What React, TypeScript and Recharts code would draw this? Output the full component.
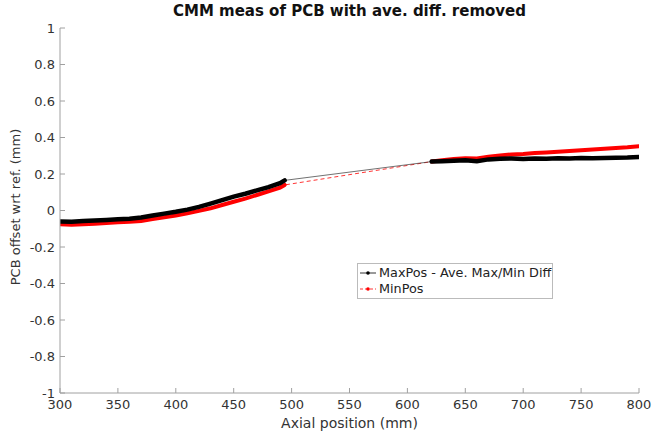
import { LineChart, Line, XAxis, YAxis } from 'recharts';

const FONT = "'DejaVu Sans', Verdana, sans-serif";
const AXIS = '#a0a0a0';

const xTicks = [300, 350, 400, 450, 500, 550, 600, 650, 700, 750, 800];
const yTicks = [-1, -0.8, -0.6, -0.4, -0.2, 0, 0.2, 0.4, 0.6, 0.8, 1];

// MaxPos - Ave. Max/Min Diff (black)
const maxLeftX = [300, 310, 320, 330, 340, 350, 360, 370, 380, 390, 400, 410, 420, 430, 440, 450, 460, 470, 480, 490, 494];
const maxLeftY = [-0.06, -0.062, -0.058, -0.055, -0.052, -0.048, -0.045, -0.038, -0.027, -0.017, -0.007, 0.005, 0.02, 0.038, 0.057, 0.076, 0.092, 0.11, 0.128, 0.15, 0.165];
const maxRightX = [621, 630, 640, 650, 660, 670, 680, 690, 700, 710, 720, 730, 740, 750, 760, 770, 780, 790, 800];
const maxRightY = [0.268, 0.27, 0.272, 0.275, 0.27, 0.28, 0.283, 0.285, 0.282, 0.285, 0.283, 0.286, 0.285, 0.287, 0.286, 0.288, 0.289, 0.29, 0.293];

// MinPos (red)
const minLeftX = [300, 310, 320, 330, 340, 350, 360, 370, 380, 390, 400, 410, 420, 430, 440, 450, 460, 470, 480, 490, 494];
const minLeftY = [-0.075, -0.078, -0.075, -0.072, -0.068, -0.065, -0.062, -0.058, -0.047, -0.037, -0.027, -0.015, -0.002, 0.012, 0.03, 0.048, 0.065, 0.085, 0.105, 0.125, 0.14];
const minRightX = [621, 630, 640, 650, 660, 670, 680, 690, 700, 710, 720, 730, 740, 750, 760, 770, 780, 790, 800];
const minRightY = [0.268, 0.275, 0.282, 0.286, 0.285, 0.295, 0.302, 0.307, 0.31, 0.315, 0.318, 0.322, 0.326, 0.33, 0.334, 0.338, 0.342, 0.346, 0.352];

const toPts = (xs: number[], ys: number[]) => xs.map((x, i) => ({ x, y: ys[i] }));

const maxLeft = toPts(maxLeftX, maxLeftY);
const maxRight = toPts(maxRightX, maxRightY);
const minLeft = toPts(minLeftX, minLeftY);
const minRight = toPts(minRightX, minRightY);

const tickStyle = { fill: '#333', fontSize: 13, fontFamily: FONT };

const LegendIcon = ({ color, dashed }: { color: string; dashed?: boolean }) => (
  <svg width={18} height={10} style={{ marginRight: 2 }}>
    <line x1={1} y1={5} x2={17} y2={5} stroke={color} strokeWidth={0.8} strokeDasharray={dashed ? '3 2' : undefined} />
    <circle cx={9} cy={5} r={1.8} fill={color} />
  </svg>
);

export default function App() {
  return (
    <div style={{ position: 'absolute', left: 0, top: 0, width: 652, height: 434, background: '#fff', fontFamily: FONT }}>
      <div style={{ position: 'absolute', left: 60, width: 579, top: 2, textAlign: 'center', fontSize: 15, fontWeight: 'bold', color: '#111' }}>
        CMM meas of PCB with ave. diff. removed
      </div>
      <LineChart width={652} height={434} margin={{ top: 28, right: 13, bottom: 21, left: 20 }}>
        <XAxis
          xAxisId="b"
          type="number"
          dataKey="x"
          domain={[300, 800]}
          ticks={xTicks}
          allowDataOverflow
          height={20}
          tick={tickStyle}
          tickSize={-5}
          tickMargin={12}
          axisLine={{ stroke: AXIS }}
          tickLine={{ stroke: AXIS }}
        />
        <XAxis
          xAxisId="t"
          orientation="top"
          type="number"
          dataKey="x"
          domain={[300, 800]}
          ticks={xTicks}
          height={0}
          tick={false}
          tickSize={-5}
          axisLine={{ stroke: AXIS }}
          tickLine={{ stroke: AXIS }}
        />
        <YAxis
          yAxisId="l"
          type="number"
          domain={[-1, 1]}
          ticks={yTicks}
          width={40}
          tick={tickStyle}
          tickSize={-5}
          tickMargin={10}
          axisLine={{ stroke: AXIS }}
          tickLine={{ stroke: AXIS }}
        />
        <YAxis
          yAxisId="r"
          orientation="right"
          type="number"
          domain={[-1, 1]}
          ticks={yTicks}
          width={0}
          tick={false}
          tickSize={-5}
          axisLine={{ stroke: AXIS }}
          tickLine={{ stroke: AXIS }}
        />
        <Line xAxisId="b" yAxisId="l" data={[...minLeft, ...minRight]} dataKey="y" stroke="#ff0000" strokeWidth={0.8} strokeDasharray="4 3" dot={false} isAnimationActive={false} />
        <Line xAxisId="b" yAxisId="l" data={minLeft} dataKey="y" stroke="#ff0000" strokeWidth={4} strokeLinecap="round" dot={false} isAnimationActive={false} />
        <Line xAxisId="b" yAxisId="l" data={minRight} dataKey="y" stroke="#ff0000" strokeWidth={4} strokeLinecap="round" dot={false} isAnimationActive={false} />
        <Line xAxisId="b" yAxisId="l" data={[...maxLeft, ...maxRight]} dataKey="y" stroke="#333" strokeWidth={0.7} dot={false} isAnimationActive={false} />
        <Line xAxisId="b" yAxisId="l" data={maxLeft} dataKey="y" stroke="#000" strokeWidth={4.5} strokeLinecap="round" dot={false} isAnimationActive={false} />
        <Line xAxisId="b" yAxisId="l" data={maxRight} dataKey="y" stroke="#000" strokeWidth={4.5} strokeLinecap="round" dot={false} isAnimationActive={false} />
      </LineChart>
      <div style={{ position: 'absolute', left: 60, width: 579, top: 415, textAlign: 'center', fontSize: 14, color: '#333' }}>
        Axial position (mm)
      </div>
      <div
        style={{
          position: 'absolute',
          left: 15,
          top: 207,
          transform: 'translate(-50%, -50%) rotate(-90deg)',
          whiteSpace: 'nowrap',
          fontSize: 13,
          color: '#333',
        }}
      >
        PCB offset wrt ref. (mm)
      </div>
      <div
        style={{
          position: 'absolute',
          left: 357,
          top: 263,
          width: 194,
          height: 33,
          border: '1px solid #bbb',
          background: '#fff',
          fontSize: 12.8,
          color: '#222',
          lineHeight: '16px',
          paddingTop: 1,
          boxSizing: 'content-box',
        }}
      >
        <div style={{ display: 'flex', alignItems: 'center', paddingLeft: 1 }}>
          <LegendIcon color="#000" />
          <span>MaxPos - Ave. Max/Min Diff</span>
        </div>
        <div style={{ display: 'flex', alignItems: 'center', paddingLeft: 1 }}>
          <LegendIcon color="#ff0000" dashed />
          <span>MinPos</span>
        </div>
      </div>
    </div>
  );
}
